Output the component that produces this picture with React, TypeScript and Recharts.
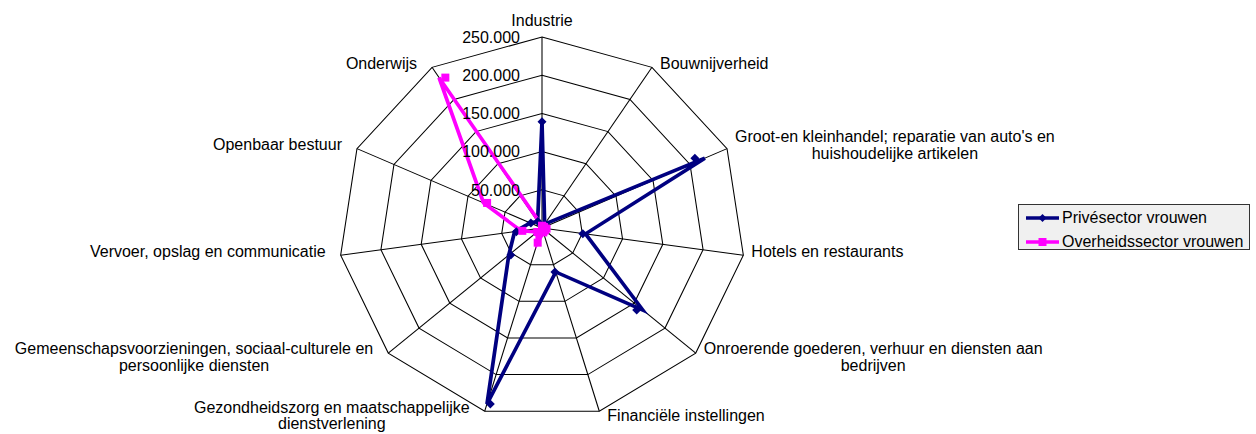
import React from "react";
import {
  RadarChart,
  PolarGrid,
  PolarAngleAxis,
  PolarRadiusAxis,
  Radar,
  Legend,
} from "recharts";

const categories = [
  "Industrie",
  "Bouwnijverheid",
  "Groot-en kleinhandel; reparatie van auto's en huishoudelijke artikelen",
  "Hotels en restaurants",
  "Onroerende goederen, verhuur en diensten aan bedrijven",
  "Financiële instellingen",
  "Gezondheidszorg en maatschappelijke dienstverlening",
  "Gemeenschapsvoorzieningen, sociaal-culturele en persoonlijke diensten",
  "Vervoer, opslag en communicatie",
  "Openbaar bestuur",
  "Onderwijs",
];

// how the labels wrap in the original
const categoryLines = [
  ["Industrie"],
  ["Bouwnijverheid"],
  ["Groot-en kleinhandel; reparatie van auto's en", "huishoudelijke artikelen"],
  ["Hotels en restaurants"],
  ["Onroerende goederen, verhuur en diensten aan", "bedrijven"],
  ["Financiële instellingen"],
  ["Gezondheidszorg en maatschappelijke", "dienstverlening"],
  ["Gemeenschapsvoorzieningen, sociaal-culturele en", "persoonlijke diensten"],
  ["Vervoer, opslag en communicatie"],
  ["Openbaar bestuur"],
  ["Onderwijs"],
];

const priveVrouwen = [139000, 6000, 220000, 54000, 164000, 60000, 240000, 54000, 34000, 16000, 10000];
const overheidVrouwen = [3000, 2000, 3000, 6000, 5000, 6000, 20000, 8000, 26000, 79000, 234000];

const seriesKeys = ["prive", "overheid"];
const seriesNames = ["Privésector vrouwen", "Overheidssector vrouwen"];

const radiusDomain = [0, 250000];
const radiusTickCount = 6;

const data = categories.map((name, i) => ({
  name,
  prive: priveVrouwen[i],
  overheid: overheidVrouwen[i],
}));

const NAVY = "#000080";
const MAGENTA = "#FF00FF";
const CX = 542;
const CY = 228;
const R = 191;
const STRETCH = 1.065; // the original plot is a bit wider than tall
const FONT = '"Liberation Sans", Arial, sans-serif';
const FONT_SIZE = 16;
const LINE_H = 16.7;

let measureCtx: CanvasRenderingContext2D | null = null;
function textWidth(s: string) {
  if (!measureCtx) {
    const c = document.createElement("canvas");
    measureCtx = c.getContext("2d");
  }
  if (!measureCtx) return s.length * 7.8;
  measureCtx.font = `${FONT_SIZE}px "Liberation Sans"`;
  return measureCtx.measureText(s).width;
}

const fmt = (v: number) => String(v).replace(/\B(?=(\d{3})+(?!\d))/g, ".");

function AngleTick(props: any) {
  const { payload, x, y } = props;
  const i = typeof payload?.index === "number" ? payload.index : props.index;
  const lines: string[] = categoryLines[i] ?? [String(payload?.value ?? "")];
  const a = (i * 2 * Math.PI) / categories.length;
  const s = Math.sin(a);
  const c = Math.cos(a);
  // snap the tick point back onto the outer ring, then widen like the grid
  const d = Math.hypot(x - CX, y - CY) || 1;
  const vx = CX + ((x - CX) / d) * R * STRETCH;
  const vy = CY + ((y - CY) / d) * R;

  if (Math.abs(s) < 0.1) {
    return (
      <text x={vx} y={vy - 11} textAnchor="middle" fontFamily={FONT} fontSize={FONT_SIZE} fill="#000">
        {lines[0]}
      </text>
    );
  }
  const w = Math.max(...lines.map(textWidth));
  const centerX = s > 0 ? vx + 8 + w / 2 : vx - 15 - w / 2;
  const centerY = vy + (c > -0.3 ? -4 : 4);
  const base0 = centerY + 5.7 - ((lines.length - 1) * LINE_H) / 2;
  return (
    <g>
      {lines.map((ln, k) => (
        <text
          key={k}
          x={centerX}
          y={base0 + k * LINE_H}
          textAnchor="middle"
          fontFamily={FONT}
          fontSize={FONT_SIZE}
          fill="#000"
        >
          {ln}
        </text>
      ))}
    </g>
  );
}

function RadiusTick(props: any) {
  const { x, y, payload } = props;
  if (!payload || payload.value === 0) return <g />;
  return (
    <text x={x - 22} y={y + 5.7} textAnchor="end" fontFamily={FONT} fontSize={FONT_SIZE} fill="#000">
      {fmt(payload.value)}
    </text>
  );
}

const diamondDot = (p: any) => (
  <path
    key={`pd-${p.index}`}
    d={`M${p.cx},${p.cy - 4.5}L${p.cx + 4.5},${p.cy}L${p.cx},${p.cy + 4.5}L${p.cx - 4.5},${p.cy}Z`}
    fill={NAVY}
  />
);

const squareDot = (p: any) => (
  <rect key={`os-${p.index}`} x={p.cx - 4} y={p.cy - 4} width={8} height={8} fill={MAGENTA} />
);

function LegendBox(props: any) {
  const items = [...(props.payload ?? [])].sort(
    (a: any, b: any) => seriesKeys.indexOf(a.dataKey) - seriesKeys.indexOf(b.dataKey)
  );
  return (
    <div
      style={{
        position: "relative",
        width: 232,
        height: 46,
        boxSizing: "border-box",
        border: "1px solid #333",
        background: "#f0f0f0",
        fontFamily: FONT,
        fontSize: FONT_SIZE,
      }}
    >
      {items.map((it: any, k: number) => {
        const top = k === 0 ? 12.7 : 36.7;
        const col = it.color;
        const isPrive = it.dataKey === "prive";
        return (
          <div key={k}>
            <svg width={36} height={12} style={{ position: "absolute", left: 6, top: top - 6 }}>
              <line x1={1} y1={6} x2={34} y2={6} stroke={col} strokeWidth={3.5} />
              {isPrive ? (
                <path d="M17.5,2L21.5,6L17.5,10L13.5,6Z" fill={col} />
              ) : (
                <rect x={13.5} y={2} width={8} height={8} fill={col} />
              )}
            </svg>
            <span
              style={{
                position: "absolute",
                left: 43,
                top: top - 9,
                lineHeight: "18px",
                whiteSpace: "nowrap",
              }}
            >
              {it.value}
            </span>
          </div>
        );
      })}
    </div>
  );
}

export default function App() {
  return (
    <div
      className="stretch"
      style={{ position: "absolute", left: 0, top: 0, width: 1256, height: 434, background: "#fff" }}
    >
      <style>{`.stretch .recharts-polar-grid, .stretch .recharts-radar { transform: scaleX(${STRETCH}); transform-origin: ${CX}px ${CY}px; }`}</style>
      <RadarChart
        width={1256}
        height={434}
        data={data}
        cx={CX}
        cy={CY}
        outerRadius={R}
        margin={{ top: 0, right: 0, bottom: 0, left: 0 }}
      >
        <PolarGrid stroke="#000" strokeWidth={1} />
        <PolarAngleAxis dataKey="name" tick={<AngleTick />} tickLine={false} axisLine={false} />
        <PolarRadiusAxis
          angle={90}
          domain={radiusDomain}
          tickCount={radiusTickCount}
          axisLine={false}
          tickLine={false}
          tick={<RadiusTick />}
        />
        <Radar
          name={seriesNames[0]}
          dataKey="prive"
          stroke={NAVY}
          strokeWidth={3.5}
          fill="none"
          fillOpacity={0}
          dot={diamondDot}
          isAnimationActive={false}
        />
        <Radar
          name={seriesNames[1]}
          dataKey="overheid"
          stroke={MAGENTA}
          strokeWidth={3.5}
          fill="none"
          fillOpacity={0}
          dot={squareDot}
          isAnimationActive={false}
        />
        <Legend
          layout="vertical"
          align="left"
          verticalAlign="top"
          content={<LegendBox />}
          wrapperStyle={{ left: 1018, top: 204, width: 232, height: 46 }}
        />
      </RadarChart>
    </div>
  );
}
